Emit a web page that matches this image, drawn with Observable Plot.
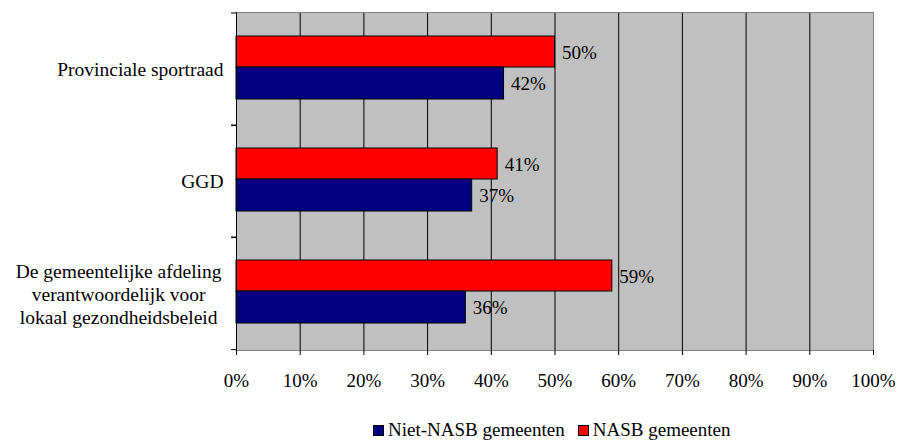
<!DOCTYPE html>
<html>
<head>
<meta charset="utf-8">
<script src="https://cdn.jsdelivr.net/npm/d3@7"></script>
<script src="https://cdn.jsdelivr.net/npm/@observablehq/plot@0.6"></script>
<style>
  body { margin: 0; background: #fff; font-family: 'Liberation Serif', 'Times New Roman', serif; }
  #chart svg { display: block; }
  #legend { margin-top: 9px; padding-left: 373px; font-size: 19px; line-height: 22px; height: 22px; white-space: nowrap; color: #000; }
  #legend .sw { display: inline-block; width: 9px; height: 9px; border: 1px solid #000; margin-right: 4px; vertical-align: baseline; }
  #legend .item { margin-right: 13px; }
</style>
</head>
<body>
<div id="chart"></div>
<div id="legend"></div>
<script>
const categories = [
  "Provinciale sportraad",
  "GGD",
  "De gemeentelijke afdeling\nverantwoordelijk voor\nlokaal gezondheidsbeleid"
];
const nasbValues = [50, 41, 59];
const nietNasbValues = [42, 37, 36];
const xTicks = [0, 10, 20, 30, 40, 50, 60, 70, 80, 90, 100];
const seriesNames = ["Niet-NASB gemeenten", "NASB gemeenten"];
const seriesColors = ["#000080", "#FF0000"];

const rows = categories.map((c, i) => ({category: c, nasb: nasbValues[i], niet: nietNasbValues[i]}));
const fontFamily = "'Liberation Serif', 'Times New Roman', serif";
const catSize = 19.5;

// measure multi-line labels for centered block alignment
const ctx = document.createElement("canvas").getContext("2d");
ctx.font = catSize + "px 'Liberation Serif'";
const multi = rows.filter(d => d.category.includes("\n"));
const single = rows.filter(d => !d.category.includes("\n"));
const blockW = multi.length ? Math.max(...multi[0].category.split("\n").map(s => ctx.measureText(s).width)) : 0;

const leftTicks = (index, scales, values, dimensions) => {
  const y = scales.y;
  const bw = (dimensions.height - dimensions.marginTop - dimensions.marginBottom) / categories.length;
  const ys = [];
  categories.forEach(c => { ys.push(y(c)); ys.push(y(c) + bw); });
  const g = d3.create("svg:g");
  g.selectAll("line").data(ys).join("line")
    .attr("x1", dimensions.marginLeft - 5).attr("x2", dimensions.marginLeft)
    .attr("y1", d => d).attr("y2", d => d)
    .attr("stroke", "#000");
  return g.node();
};

const chart = Plot.plot({
  width: 902,
  height: 410,
  marginLeft: 236,
  marginRight: 29,
  marginTop: 12,
  marginBottom: 60,
  style: {fontFamily, fontSize: "19px", color: "#000", background: "#fff"},
  x: {domain: [0, 100]},
  y: {domain: categories, padding: 0, axis: null},
  marks: [
    Plot.frame({fill: "#C0C0C0"}),
    Plot.gridX(xTicks.slice(1, -1), {stroke: "#000", strokeOpacity: 1}),
    Plot.barX(rows, {x: "nasb", y: "category", fill: seriesColors[1], stroke: "#000", insetTop: 23, insetBottom: 58}),
    Plot.barX(rows, {x: "niet", y: "category", fill: seriesColors[0], stroke: "#000", insetTop: 54, insetBottom: 26}),
    Plot.text(rows, {x: "nasb", y: "category", text: d => d.nasb + "%", textAnchor: "start", dx: 7, dy: -17, fontSize: 19, fontFamily, fill: "#000"}),
    Plot.text(rows, {x: "niet", y: "category", text: d => d.niet + "%", textAnchor: "start", dx: 7, dy: 14, fontSize: 19, fontFamily, fill: "#000"}),
    Plot.text(single, {y: "category", text: "category", frameAnchor: "left", textAnchor: "end", dx: -13, fontSize: catSize, fontFamily, fill: "#000"}),
    Plot.text(multi, {y: "category", text: "category", frameAnchor: "left", textAnchor: "middle", dx: -15 - blockW / 2, lineHeight: 1.18, fontSize: catSize, fontFamily, fill: "#000"}),
    Plot.frame({stroke: "#808080"}),
    Plot.ruleX([0], {stroke: "#000"}),
    Plot.axisX(xTicks, {tickSize: 5, tickPadding: 18, tickFormat: d => d + "%", fontSize: 19, fontFamily, stroke: "#000", color: "#000"}),
    leftTicks
  ]
});
document.getElementById("chart").appendChild(chart);

const legend = document.getElementById("legend");
seriesNames.forEach((name, i) => {
  const item = document.createElement("span");
  item.className = "item";
  const sw = document.createElement("span");
  sw.className = "sw";
  sw.style.background = seriesColors[i];
  item.appendChild(sw);
  item.appendChild(document.createTextNode(name));
  legend.appendChild(item);
});
</script>
</body>
</html>
